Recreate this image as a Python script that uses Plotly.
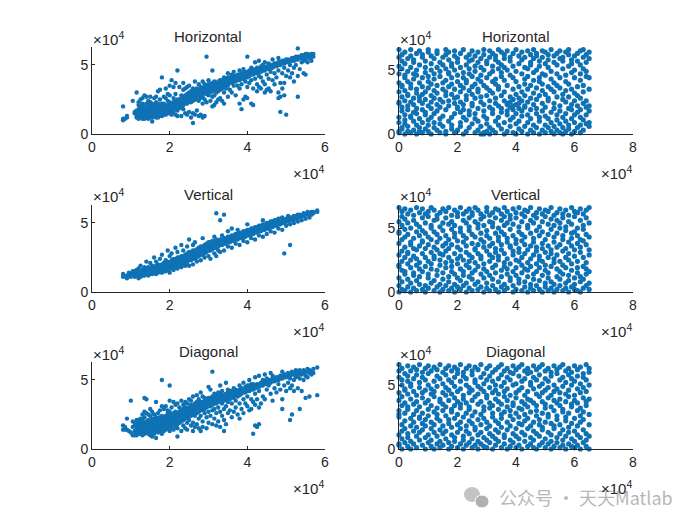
import plotly.graph_objects as go

# values, in thousands: {x: [y, y, ...]}
horizontal_left = {
    8: [10, 11, 20], 8.5: [11], 9: [12, 13], 10.5: [24], 11: [15, 16], 11.5: [12, 13, 15, 17, 30],
    12: [11, 12, 14, 16, 18, 21, 23], 12.5: [12, 14, 16, 18, 20, 25], 13: [11, 13, 15, 17, 19, 22, 26],
    13.5: [11, 13, 14, 16, 18, 20, 28], 14: [12, 14, 16, 18, 22, 27], 14.5: [11, 13, 15, 17, 19, 21, 24],
    15: [12, 14, 16, 18, 20, 23, 27], 15.5: [9, 12, 14, 16, 18, 20, 22], 16: [13, 15, 17, 19, 21, 26],
    16.5: [12, 14, 16, 18, 20, 23, 27], 17: [12, 14, 16, 18, 20, 22, 31], 17.5: [13, 15, 17, 19, 21, 25, 32],
    18: [13, 15, 17, 19, 22, 41], 18.5: [14, 16, 18, 20, 22, 27], 19: [14, 16, 18, 20, 26, 33],
    19.5: [15, 17, 19, 21, 24, 29], 20: [15, 17, 19, 21, 23, 28, 35], 20.5: [14, 16, 18, 20, 22, 39],
    21: [16, 18, 20, 23, 26, 34], 21.5: [14, 18, 20, 22, 24, 29, 37], 22: [13, 17, 19, 21, 23, 25, 46],
    22.5: [19, 21, 23, 25, 34], 23: [13, 19, 21, 24, 26, 28], 23.5: [18, 21, 23, 25, 27, 32, 37],
    24: [15, 22, 24, 26, 28, 33], 24.5: [14, 22, 25, 27, 29, 34], 25: [16, 24, 26, 28, 30, 35],
    25.5: [12, 23, 25, 27, 29, 31], 26: [8, 15, 24, 26, 28, 30, 33], 26.5: [14, 25, 27, 29, 31, 38],
    27: [17, 25, 27, 29, 31, 33], 27.5: [13, 24, 28, 30, 32, 36], 28: [14, 26, 28, 30, 32, 34],
    28.5: [12, 22, 27, 29, 31, 33, 38], 29: [13, 25, 30, 32, 34, 36], 29.5: [23, 29, 31, 33, 35, 56],
    30: [28, 30, 32, 34, 36, 39], 30.5: [24, 30, 32, 34, 36], 31: [20, 27, 31, 33, 35, 37, 46],
    31.5: [21, 28, 32, 34, 36, 38], 32: [23, 30, 33, 35, 37], 32.5: [25, 31, 34, 36, 38],
    33: [26, 32, 35, 37, 39], 33.5: [24, 33, 35, 37, 39], 34: [22, 30, 35, 37, 39, 41], 34.5: [33, 36, 38, 40],
    35: [27, 35, 37, 39, 41, 44], 35.5: [32, 37, 39, 41], 36: [30, 37, 39, 41, 43], 36.5: [35, 38, 40, 42, 45],
    37: [28, 38, 40, 42], 37.5: [35, 39, 41, 43], 38: [22, 33, 39, 41, 43, 46], 38.5: [18, 36, 40, 42, 44],
    39: [25, 40, 42, 44, 47], 39.5: [27, 38, 41, 43, 45], 40: [26, 34, 41, 43, 45, 56],
    40.5: [37, 42, 44, 46], 41: [22, 39, 43, 45, 48], 41.5: [21, 33, 43, 45, 47], 42: [40, 44, 46, 52],
    42.5: [31, 36, 44, 46, 48], 43: [34, 42, 45, 47, 53], 43.5: [33, 41, 45, 47, 49], 44: [38, 46, 48, 50],
    44.5: [30, 36, 46, 48, 52], 45: [32, 43, 47, 49], 45.5: [33, 40, 47, 49, 51], 46: [31, 45, 48, 50],
    46.5: [39, 48, 50, 54], 47: [36, 44, 49, 51], 47.5: [41, 49, 51], 48: [30, 26, 46, 50, 52, 55],
    48.5: [16, 27, 37, 50, 52], 49: [33, 44, 51, 53], 49.5: [28, 37, 48, 51, 53], 50: [14, 42, 52, 54],
    50.5: [46, 52, 54], 51: [41, 50, 53], 51.5: [44, 53, 55], 52: [38, 48, 53, 55], 52.5: [50, 54, 56],
    53: [27, 42, 54, 56, 62], 53.5: [47, 55, 56], 54: [52, 55, 57], 54.5: [44, 53, 55, 57],
    55: [43, 54, 56, 58], 55.5: [52, 56, 58], 56: [55, 57], 56.5: [53, 56, 58], 57: [56, 58],
}
vertical_left = {
    8: [11, 13], 9: [10, 12], 9.5: [12, 14], 10: [11, 13], 10.5: [13, 15], 11: [11, 13, 15],
    11.5: [12, 14, 16], 12: [10, 12, 14, 17], 12.5: [11, 13, 15, 19], 13: [12, 14, 16], 13.5: [12, 14, 16, 18],
    14: [13, 15, 17, 22], 14.5: [12, 14, 16, 18], 15: [13, 15, 17, 21], 15.5: [13, 15, 17, 19],
    16: [14, 16, 18, 25], 16.5: [13, 15, 17, 19, 22], 17: [14, 16, 18, 20], 17.5: [15, 17, 19, 24],
    18: [14, 16, 18, 20, 27], 18.5: [15, 17, 19, 21], 19: [15, 17, 19, 21, 23], 19.5: [16, 18, 20, 22, 30],
    20: [14, 17, 19, 21, 26], 20.5: [17, 19, 21, 23, 28], 21: [16, 18, 20, 22, 24], 21.5: [18, 20, 22, 24, 32],
    22: [17, 19, 21, 23, 25, 29], 22.5: [19, 21, 23, 25], 23: [18, 20, 22, 24, 26, 34], 23.5: [20, 22, 24, 26, 30],
    24: [19, 21, 23, 25, 27], 24.5: [20, 22, 24, 26, 28, 33], 25: [19, 23, 25, 27, 29, 38], 25.5: [23, 25, 27, 29],
    26: [20, 24, 26, 28, 30, 34], 26.5: [24, 26, 28, 30, 36], 27: [22, 25, 27, 29, 31], 27.5: [26, 28, 30, 32],
    28: [23, 27, 29, 31, 33], 28.5: [27, 29, 31, 33, 39], 29: [25, 28, 30, 32, 34], 29.5: [29, 31, 33, 35],
    30: [26, 30, 32, 34, 36], 30.5: [24, 30, 32, 34, 36], 31: [31, 33, 35, 37], 31.5: [28, 32, 34, 36, 40],
    32: [26, 32, 34, 36, 38, 57], 32.5: [30, 33, 35, 37], 33: [29, 34, 36, 38, 52], 33.5: [34, 36, 38, 41],
    34: [30, 35, 37, 39, 56], 34.5: [35, 37, 39], 35: [33, 36, 38, 40, 44], 35.5: [36, 38, 40], 36: [32, 37, 39, 41, 46],
    36.5: [37, 39, 41], 37: [35, 38, 40, 42], 37.5: [38, 40, 42, 45], 38: [34, 39, 41, 43], 38.5: [39, 41, 43],
    39: [37, 40, 42, 44], 39.5: [40, 42, 44], 40: [36, 41, 43, 45, 49], 40.5: [41, 43, 45], 41: [39, 42, 44, 46],
    41.5: [42, 44, 46], 42: [38, 43, 45, 47], 42.5: [43, 45, 47], 43: [41, 44, 46, 48], 43.5: [44, 46, 48],
    44: [40, 45, 47, 49, 52], 44.5: [45, 47, 49], 45: [42, 46, 48, 50], 45.5: [46, 48, 50], 46: [44, 47, 49, 51],
    46.5: [47, 49, 51], 47: [43, 48, 50, 52], 47.5: [48, 50, 52], 48: [46, 49, 51, 53], 48.5: [49, 51, 53],
    49: [45, 50, 52, 54], 49.5: [28, 50, 52], 50: [48, 51, 53], 50.5: [51, 53, 55], 51: [34, 49, 52, 54],
    51.5: [52, 54], 52: [50, 53, 55], 52.5: [53, 55], 53: [51, 54, 56], 53.5: [54, 56], 54: [52, 55],
    54.5: [55, 57], 55: [53, 56], 55.5: [56, 58], 56: [54, 57], 56.5: [56, 58], 57: [57, 58], 58: [58, 59],
}
diagonal_left = {
    8: [14, 17], 8.5: [14, 16], 9: [14, 22], 9.5: [13], 10: [12, 35], 10.5: [10, 16, 20], 11: [10, 13, 17, 19],
    11.5: [10, 12, 14, 16, 18, 21], 12: [11, 13, 15, 17, 19, 21], 12.5: [11, 13, 15, 17, 19, 22], 13: [10, 12, 14, 16, 18, 21, 25],
    13.5: [11, 13, 15, 17, 19, 23, 27, 37], 14: [12, 14, 16, 18, 20, 26, 36], 14.5: [11, 13, 15, 17, 19, 21, 25],
    15: [10, 12, 14, 16, 18, 20, 24, 29], 15.5: [9, 12, 14, 16, 18, 20, 22, 27], 16: [11, 13, 15, 17, 19, 21, 25],
    16.5: [8, 13, 15, 17, 19, 21, 23, 34], 17: [12, 14, 16, 18, 20, 22, 26], 17.5: [13, 15, 17, 19, 21, 23, 28],
    18: [11, 15, 17, 19, 21, 24, 31, 50], 18.5: [13, 15, 17, 19, 21, 23, 29], 19: [14, 16, 18, 20, 22, 24, 31],
    19.5: [15, 17, 19, 21, 23, 26, 28], 20: [13, 16, 18, 20, 22, 24, 27, 35, 46], 20.5: [15, 17, 19, 21, 23, 25, 30],
    21: [14, 18, 20, 22, 24, 26, 34], 21.5: [16, 19, 21, 23, 25, 27, 32], 22: [9, 15, 18, 20, 22, 24, 26, 33],
    22.5: [19, 21, 23, 25, 27, 30], 23: [13, 20, 22, 24, 26, 28, 35], 23.5: [17, 21, 23, 25, 27, 29, 32],
    24: [15, 22, 24, 26, 28, 30, 34], 24.5: [14, 19, 23, 25, 27, 29, 33], 25: [21, 24, 26, 28, 30, 36],
    25.5: [17, 24, 26, 28, 30, 32, 35], 26: [13, 19, 25, 27, 29, 31, 38], 26.5: [16, 24, 27, 29, 31, 33],
    27: [18, 26, 28, 30, 32, 34, 39], 27.5: [15, 22, 27, 29, 31, 33, 36], 28: [13, 24, 28, 30, 32, 34, 41],
    28.5: [16, 20, 28, 30, 32, 34, 38], 29: [26, 29, 31, 33, 35, 37], 29.5: [15, 23, 30, 32, 34, 36],
    30: [19, 27, 31, 33, 35, 37, 45], 30.5: [24, 31, 33, 35, 37, 43], 31: [18, 28, 32, 34, 36, 38, 56],
    31.5: [22, 29, 33, 35, 37, 40], 32: [17, 26, 33, 35, 37, 39], 32.5: [20, 30, 34, 36, 38, 41],
    33: [16, 27, 34, 36, 38, 40, 46], 33.5: [24, 33, 35, 37, 39, 42], 34: [13, 21, 29, 35, 37, 39],
    34.5: [18, 31, 36, 38, 40, 48], 35: [26, 34, 37, 39, 41, 43], 35.5: [28, 36, 38, 40, 42], 36: [23, 33, 38, 40, 42],
    36.5: [27, 37, 39, 41, 44], 37: [30, 35, 39, 41, 43], 37.5: [25, 38, 40, 42], 38: [22, 33, 39, 41, 43, 46],
    38.5: [29, 40, 42, 44], 39: [26, 36, 41, 43, 48], 39.5: [33, 41, 43, 45], 40: [31, 38, 42, 44, 46],
    40.5: [28, 42, 44, 46, 50], 41: [29, 36, 43, 45, 47], 41.5: [11, 34, 43, 45, 47], 42: [17, 32, 40, 44, 46, 52],
    42.5: [16, 36, 45, 47], 43: [18, 30, 42, 45, 47, 53], 43.5: [33, 46, 48], 44: [38, 46, 48, 50], 44.5: [36, 47, 49, 54],
    45: [43, 47, 49, 51], 45.5: [46, 48, 50], 46: [40, 48, 50, 55], 46.5: [35, 49, 51, 53], 47: [44, 49, 51],
    47.5: [41, 50, 52], 48: [47, 50, 52], 48.5: [43, 51, 53], 49: [29, 36, 51, 53, 56], 49.5: [46, 52, 54],
    50: [42, 52, 54], 50.5: [48, 53, 55], 51: [21, 44, 51, 53], 51.5: [25, 46, 54, 56], 52: [42, 50, 54],
    52.5: [52, 55, 57], 53: [44, 53, 55], 53.5: [29, 51, 55, 57], 54: [42, 54, 56], 54.5: [50, 55, 57],
    55: [37, 53, 56], 55.5: [52, 56, 58], 56: [38, 55, 57], 56.5: [54, 56], 57: [55, 58], 58: [39, 59],
}
horizontal_right = {
    0: [1, 2, 9, 13, 24, 25, 33, 40, 47, 53, 60, 66], 1: [4, 5, 18, 21, 29, 37, 38, 51, 57, 62],
    2: [0, 8, 11, 15, 26, 34, 44, 46, 55, 64], 3: [2, 6, 19, 22, 30, 31, 41, 49, 59], 4: [1, 13, 14, 25, 36, 39, 52, 61, 66],
    5: [3, 10, 17, 23, 28, 43, 47, 56, 58], 6: [0, 7, 16, 20, 32, 35, 46, 50, 63], 7: [2, 5, 12, 26, 29, 40, 54, 65],
    8: [1, 9, 19, 24, 31, 37, 44, 60, 62], 9: [4, 15, 17, 27, 33, 48, 52, 57], 10: [2, 7, 11, 22, 36, 41, 45, 64, 66],
    11: [0, 13, 20, 25, 30, 39, 50, 55, 61], 12: [5, 9, 16, 28, 34, 43, 47, 59], 13: [3, 18, 23, 32, 38, 52, 63, 65],
    14: [1, 8, 12, 21, 27, 45, 49, 56], 15: [6, 14, 25, 35, 40, 54, 60], 16: [0, 2, 19, 30, 33, 42, 51, 62, 66],
    17: [10, 22, 26, 37, 47, 48, 58, 64], 18: [4, 7, 13, 31, 39, 44, 53, 55], 19: [1, 16, 24, 28, 35, 50, 61, 65],
    20: [3, 20, 21, 29, 41, 46, 56, 59], 21: [6, 9, 17, 25, 33, 38, 52, 63], 22: [0, 13, 19, 23, 36, 44, 48, 66],
    23: [2, 11, 27, 30, 40, 42, 54, 60], 24: [5, 15, 18, 34, 47, 51, 57, 62], 25: [8, 22, 24, 31, 37, 45, 58, 65],
    26: [1, 12, 16, 28, 39, 49, 53, 61], 27: [3, 10, 20, 33, 35, 43, 56, 64], 28: [0, 6, 25, 29, 41, 46, 52, 59],
    29: [0, 1, 14, 18, 23, 38, 50, 62, 66], 30: [2, 8, 12, 30, 36, 44, 55, 57], 31: [0, 5, 21, 26, 34, 47, 60, 65],
    32: [3, 16, 19, 32, 41, 49, 53, 63], 33: [1, 10, 24, 28, 39, 43, 58, 61], 34: [7, 13, 22, 35, 37, 51, 56, 66],
    35: [4, 17, 20, 30, 45, 48, 54, 64], 36: [0, 9, 26, 33, 42, 52, 59, 62], 37: [2, 15, 18, 23, 24, 38, 50, 65],
    38: [6, 11, 21, 25, 29, 46, 57, 60], 39: [1, 13, 19, 22, 27, 35, 44, 53, 63], 40: [0, 8, 16, 23, 31, 41, 49, 66],
    41: [4, 10, 20, 24, 28, 37, 55, 61], 42: [2, 14, 18, 26, 33, 47, 58, 64], 43: [6, 21, 22, 30, 39, 43, 52, 60],
    44: [0, 9, 15, 25, 35, 45, 51, 65], 45: [3, 12, 19, 28, 38, 54, 56, 62], 46: [1, 7, 23, 32, 42, 48, 59, 66],
    47: [5, 16, 20, 27, 36, 50, 61, 63], 48: [0, 10, 13, 30, 41, 44, 53, 57], 49: [3, 18, 24, 34, 39, 47, 60, 65],
    50: [1, 7, 14, 21, 31, 46, 55, 64], 51: [5, 12, 26, 28, 37, 52, 58, 62], 52: [2, 9, 17, 35, 43, 49, 66],
    53: [0, 6, 20, 24, 33, 40, 56, 61], 54: [3, 11, 15, 29, 38, 47, 54, 63], 55: [1, 8, 18, 22, 36, 44, 59, 65],
    56: [0, 5, 13, 27, 31, 51, 57, 60], 57: [2, 10, 16, 25, 34, 41, 46, 64], 58: [4, 7, 20, 29, 39, 53, 62, 66],
    59: [0, 12, 19, 23, 35, 48, 55, 58], 60: [2, 9, 15, 26, 32, 44, 50, 61], 61: [5, 17, 22, 30, 37, 57, 63],
    62: [1, 7, 13, 19, 28, 42, 47, 54, 65], 63: [3, 11, 24, 33, 38, 51, 60, 66], 64: [8, 15, 21, 26, 45, 49, 56, 62], 65: [6, 9, 18, 22, 35, 44, 59, 64],
}
vertical_right = {
    0: [0, 5, 11, 20, 21, 29, 38, 46, 47, 55, 66], 1: [2, 8, 17, 24, 32, 41, 52, 59, 63], 2: [1, 14, 16, 27, 35, 43, 49, 57, 65],
    3: [4, 10, 22, 30, 31, 45, 54, 61], 4: [0, 7, 19, 25, 37, 39, 50, 64], 5: [3, 13, 15, 28, 34, 42, 56, 60],
    6: [1, 9, 21, 26, 33, 47, 53, 66], 7: [6, 12, 18, 23, 36, 44, 51, 62], 8: [2, 16, 30, 39, 40, 48, 58, 65],
    9: [0, 5, 20, 27, 34, 46, 54, 61], 10: [3, 11, 14, 24, 37, 43, 59, 63], 11: [7, 18, 22, 31, 41, 50, 52, 66],
    12: [1, 9, 26, 28, 35, 47, 56, 64], 13: [4, 13, 17, 33, 39, 45, 57, 60], 14: [0, 6, 21, 25, 30, 42, 51, 62],
    15: [2, 10, 15, 29, 36, 48, 54, 65], 16: [5, 19, 23, 32, 38, 44, 58, 63], 17: [1, 8, 12, 27, 34, 41, 53, 66],
    18: [3, 16, 20, 24, 37, 49, 55, 60], 19: [0, 6, 14, 30, 43, 46, 52, 64], 20: [4, 11, 22, 26, 35, 40, 59, 62],
    21: [2, 9, 18, 28, 33, 47, 50, 66], 22: [5, 13, 16, 25, 39, 44, 56, 61], 23: [0, 7, 21, 31, 36, 42, 54, 63],
    24: [3, 12, 19, 24, 29, 48, 51, 58, 65], 25: [1, 10, 15, 27, 38, 45, 60, 62], 26: [6, 17, 23, 33, 34, 43, 55, 66],
    27: [2, 8, 20, 30, 37, 50, 53, 64], 28: [4, 14, 26, 28, 41, 46, 57, 61], 29: [0, 11, 18, 22, 35, 39, 52, 59],
    30: [3, 7, 16, 32, 44, 48, 63, 66], 31: [1, 13, 24, 29, 36, 42, 55, 60], 32: [5, 10, 19, 27, 38, 51, 54, 62],
    33: [2, 15, 21, 31, 34, 46, 58, 65], 34: [0, 8, 25, 28, 40, 43, 50, 64], 35: [4, 12, 17, 33, 37, 47, 56, 61],
    36: [1, 6, 20, 23, 30, 45, 52, 59, 66], 37: [3, 14, 18, 26, 39, 42, 54, 63], 38: [9, 11, 22, 35, 36, 49, 57, 60],
    39: [0, 5, 16, 29, 32, 44, 53, 65], 40: [2, 13, 19, 25, 38, 41, 58, 62], 41: [7, 10, 24, 31, 34, 47, 51, 66],
    42: [1, 15, 21, 27, 40, 45, 55, 61], 43: [4, 8, 18, 30, 37, 43, 59, 64], 44: [0, 12, 17, 23, 33, 50, 52, 63],
    45: [3, 6, 20, 26, 36, 46, 56, 66], 46: [1, 10, 14, 29, 39, 42, 54, 60], 47: [5, 16, 22, 32, 35, 48, 58, 62],
    48: [2, 9, 19, 25, 28, 44, 51, 65], 49: [0, 13, 24, 34, 38, 47, 55, 61], 50: [4, 7, 17, 21, 31, 41, 59, 64],
    51: [1, 11, 15, 27, 36, 45, 53, 63], 52: [3, 8, 20, 30, 33, 49, 57, 66], 53: [0, 6, 23, 26, 39, 43, 52, 60],
    54: [2, 12, 18, 29, 35, 46, 56, 62], 55: [5, 10, 16, 24, 37, 50, 54, 65], 56: [1, 14, 21, 32, 41, 44, 58, 61],
    57: [3, 7, 19, 27, 34, 48, 51, 64], 58: [0, 9, 13, 25, 30, 39, 55, 60], 59: [4, 17, 22, 36, 42, 46, 53, 66],
    60: [2, 6, 11, 28, 33, 47, 59, 63], 61: [1, 15, 19, 24, 38, 44, 50, 62], 62: [0, 8, 12, 31, 35, 41, 56, 65],
    63: [3, 10, 20, 27, 40, 49, 52, 61], 64: [5, 14, 18, 23, 37, 45, 58, 64], 65: [2, 7, 16, 29, 33, 43, 54, 66],
}
diagonal_right = {
    0: [3, 4, 11, 25, 27, 30, 38, 44, 56, 61, 66], 1: [0, 8, 14, 19, 34, 41, 50, 54, 63], 2: [5, 16, 22, 28, 36, 46, 47, 59],
    3: [2, 9, 12, 31, 33, 43, 53, 57, 65], 4: [0, 6, 18, 24, 39, 49, 51, 61], 5: [4, 14, 21, 27, 35, 45, 55, 64],
    6: [1, 10, 17, 30, 37, 42, 58, 62], 7: [7, 13, 24, 25, 33, 48, 52, 66], 8: [3, 15, 20, 28, 40, 44, 56, 60],
    9: [0, 9, 18, 23, 36, 46, 54, 63], 10: [5, 11, 26, 31, 38, 50, 59, 65], 11: [2, 7, 16, 21, 34, 43, 47, 61],
    12: [0, 13, 19, 29, 41, 45, 53, 64], 13: [4, 10, 24, 27, 32, 49, 57, 62], 14: [1, 6, 15, 22, 37, 39, 55, 66],
    15: [3, 12, 18, 30, 35, 44, 51, 60], 16: [8, 14, 26, 33, 42, 48, 58, 63], 17: [0, 5, 20, 23, 38, 46, 54, 65],
    18: [2, 11, 17, 29, 31, 43, 52, 61], 19: [6, 9, 24, 34, 40, 49, 56, 64], 20: [1, 13, 19, 27, 37, 45, 59, 62],
    21: [4, 16, 21, 32, 35, 47, 53, 66], 22: [0, 7, 10, 25, 39, 42, 57, 60], 23: [3, 14, 18, 28, 36, 50, 55, 63],
    24: [5, 12, 22, 31, 33, 44, 48, 65], 25: [1, 8, 20, 26, 38, 46, 58, 61], 26: [3, 15, 17, 29, 41, 52, 54, 64],
    27: [0, 6, 11, 23, 35, 43, 49, 62], 28: [4, 13, 19, 27, 37, 47, 56, 66], 29: [2, 9, 24, 30, 33, 45, 51, 59],
    30: [1, 7, 16, 21, 40, 42, 54, 63], 31: [5, 12, 18, 32, 36, 48, 57, 65], 32: [0, 10, 25, 28, 34, 44, 53, 60],
    33: [3, 8, 15, 22, 39, 46, 50, 62], 34: [6, 13, 20, 31, 37, 43, 55, 64], 35: [1, 17, 24, 27, 35, 49, 58, 66],
    36: [4, 9, 11, 29, 41, 45, 52, 61], 37: [0, 15, 21, 33, 38, 47, 56, 63], 38: [2, 7, 18, 26, 30, 42, 54, 60],
    39: [5, 12, 23, 34, 36, 50, 59, 65], 40: [1, 10, 16, 28, 40, 44, 51, 62], 41: [3, 8, 20, 25, 32, 46, 57, 64],
    42: [0, 13, 19, 31, 37, 48, 53, 66], 43: [6, 11, 22, 27, 35, 42, 55, 61], 44: [2, 16, 24, 33, 39, 45, 59, 63],
    45: [4, 9, 18, 29, 38, 50, 52, 60], 46: [1, 7, 14, 21, 36, 47, 56, 65], 47: [0, 12, 26, 30, 34, 43, 54, 62],
    48: [3, 10, 19, 23, 41, 49, 58, 64], 49: [5, 15, 17, 28, 37, 44, 51, 66], 50: [1, 8, 21, 32, 35, 46, 55, 61],
    51: [4, 13, 25, 27, 40, 48, 53, 63], 52: [0, 6, 11, 20, 33, 42, 57, 60], 53: [2, 16, 18, 30, 38, 45, 50, 65],
    54: [5, 9, 23, 26, 36, 47, 59, 62], 55: [1, 12, 19, 34, 39, 44, 54, 64], 56: [3, 7, 15, 29, 31, 49, 56, 66],
    57: [0, 10, 22, 25, 37, 43, 52, 61], 58: [4, 13, 17, 28, 41, 46, 58, 63], 59: [2, 8, 20, 33, 35, 50, 55, 60],
    60: [1, 6, 14, 24, 38, 42, 53, 65], 61: [3, 11, 18, 30, 36, 47, 57, 62], 62: [0, 9, 21, 26, 32, 44, 51, 64],
    63: [5, 15, 23, 29, 40, 48, 56, 59], 64: [2, 7, 12, 34, 37, 45, 54, 66], 65: [0, 10, 19, 27, 39, 50, 60, 63],
}

titles = ["Horizontal", "Vertical", "Diagonal"]
left_data = [horizontal_left, vertical_left, diagonal_left]
right_data = [horizontal_right, vertical_right, diagonal_right]
left_x_ticks = [0, 2, 4, 6]
right_x_ticks = [0, 2, 4, 6, 8]
left_y_ticks = [0, 5]

W, H = 700, 525
BLUE = "#0f72b5"
INK = "#262626"
FONT = "Liberation Sans"
row_tops = [47, 205, 362]
row_bottoms = [134, 292, 449]
col_left = [(92, 325), (399, 633)]


def flatten(columns):
    xs, ys = [], []
    for x, vals in columns.items():
        for y in vals:
            xs.append(x * 1000)
            ys.append(y * 1000)
    return xs, ys


def label(text, px, py, size, color=INK, family=FONT):
    fig.add_annotation(text=text, xref="paper", yref="paper", x=px / W, y=1 - py / H, showarrow=False,
                       xanchor="center", yanchor="middle", font=dict(family=family, size=size, color=color))


fig = go.Figure()
axis_style = dict(showgrid=False, zeroline=False, showline=True, linecolor=INK, linewidth=1,
                  ticks="inside", ticklen=3, tickcolor=INK,
                  tickfont=dict(family=FONT, size=14, color=INK))

# watermark goes under the exponent label
label("公众号 · 天天Matlab", 586, 497, 18, "#b8b8b8", "Noto Sans CJK SC")
fig.add_shape(type="circle", xref="paper", yref="paper", x0=464 / W, x1=480 / W,
              y0=1 - 502 / H, y1=1 - 487 / H, fillcolor="#c4c4c4", line_width=0)
fig.add_shape(type="circle", xref="paper", yref="paper", x0=475 / W, x1=489 / W,
              y0=1 - 508 / H, y1=1 - 495 / H, fillcolor="#b0b0b0", line=dict(color="white", width=1))

n = 0
for r in range(3):
    for c in range(2):
        n += 1
        data = left_data[r] if c == 0 else right_data[r]
        xs, ys = flatten(data)
        xname = "x" if n == 1 else "x%d" % n
        yname = "y" if n == 1 else "y%d" % n
        dot = 4.4 if c == 0 else 5.2
        fig.add_trace(go.Scatter(x=xs, y=ys, mode="markers", xaxis=xname, yaxis=yname, showlegend=False,
                                 marker=dict(color=BLUE, size=dot, line=dict(width=0)), cliponaxis=False))
        x0, x1 = col_left[c]
        xticks = left_x_ticks if c == 0 else right_x_ticks
        ymax = 63000 if c == 0 else 68000
        fig.update_layout({
            "xaxis" + ("" if n == 1 else str(n)): dict(
                axis_style, domain=[x0 / W, x1 / W], range=[0, xticks[-1] * 10000],
                tickvals=[t * 10000 for t in xticks], ticktext=[str(t) for t in xticks],
                anchor=yname),
            "yaxis" + ("" if n == 1 else str(n)): dict(
                axis_style, domain=[1 - row_bottoms[r] / H, 1 - row_tops[r] / H], range=[0, ymax],
                tickvals=[t * 10000 for t in left_y_ticks], ticktext=[str(t) for t in left_y_ticks],
                anchor=xname),
        })
        label(titles[r], (x0 + x1) / 2 - 0.5, row_tops[r] - 11, 15)
        label("×10<sup>4</sup>", x0 + 16, row_tops[r] - 9, 15)
        label("×10<sup>4</sup>", x1 - 17, row_bottoms[r] + 38, 15)

fig.update_layout(width=W, height=H, margin=dict(l=0, r=0, t=0, b=0, autoexpand=False), paper_bgcolor="white",
                  plot_bgcolor="white", showlegend=False)
fig.write_html("out.html", config={"displayModeBar": False}, post_script="document.body.style.margin='0';")
